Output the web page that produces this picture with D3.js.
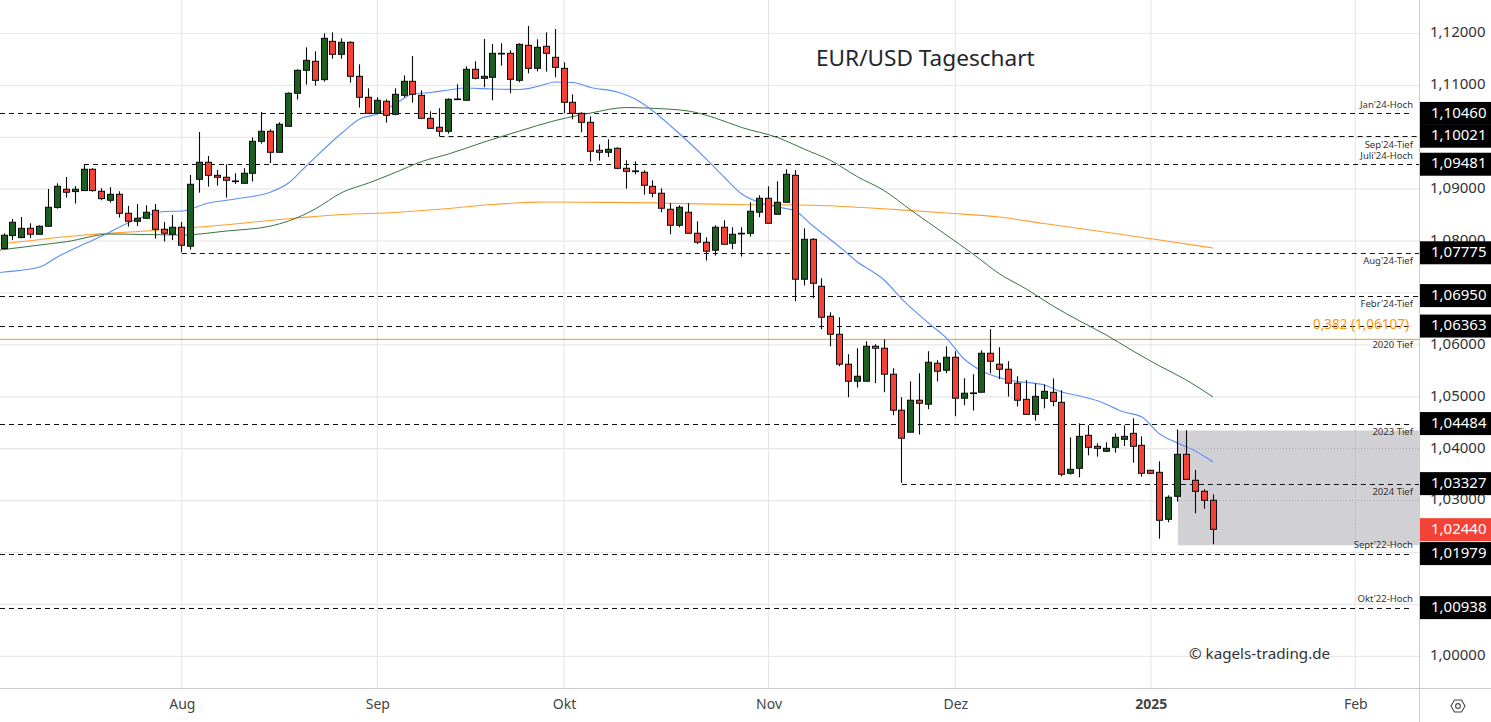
<!DOCTYPE html>
<html>
<head>
<meta charset="utf-8">
<script src="https://cdn.jsdelivr.net/npm/d3@7"></script>
<style>
  html, body { margin: 0; padding: 0; background: #fff; overflow: hidden; }
  svg { display: block; }
  text { font-family: "Noto Sans", sans-serif; }
</style>
</head>
<body>
<div id="chart"></div>
<script>
// prices are written in 1/100000, bar 0 is the first visible trading day
var opens = [107856,108106,108068,108247,108132,108286,108646,108999,108954,108973,
  109384,108960,108787,108902,108536,108382,108440,108594,108228,108132,
  108267,107901,109191,109519,109268,109230,109146,109114,109307,109923,
  110116,109711,110212,110848,111291,111464,111111,111849,111599,111830,
  111175,110771,110462,110694,110443,110809,111079,110809,110366,110193,
  110116,110726,110713,111310,111136,111156,111618,111618,111098,111772,
  111329,111753,111541,111329,110674,110462,110289,109750,109711,109788,
  109403,109339,109326,109056,108922,108613,108305,108556,108151,107978,
  107824,108267,107959,108151,108151,108556,108825,108517,108748,109268,
  107265,108035,107130,106552,106205,105628,105300,105300,105974,105936,
  105435,104742,104318,104934,104857,105647,105512,105762,104973,105063,
  105088,105839,105628,105531,105262,104951,104662,104970,105086,104893,
  103526,103622,104258,104046,103950,104027,104181,104296,104065,103584,
  103545,102640,103083,103892,103391,103179,103006];
var highs = [108151,108427,108466,108344,108305,109005,109114,109236,109063,109480,
  109403,109018,109037,108960,108678,108716,108690,108716,108369,108504,
  108369,109275,110103,109641,109371,109480,109307,109403,110000,110488,
  110154,110289,110867,111310,111734,111657,112003,112022,111907,111849,
  111406,110944,110771,110732,110944,111194,111567,110905,110501,110559,
  110751,111021,111368,111464,111894,111798,111811,111676,111811,112144,
  111888,112022,112087,111445,110828,110482,110405,109865,109962,109808,
  109557,109538,109365,109172,109018,108729,108690,108729,108382,108074,
  108305,108402,108267,108267,108748,108883,109056,109153,109383,109370,
  108247,108054,107284,106629,106533,105820,105936,106071,106013,106109,
  105550,104992,105300,105454,105878,105705,105974,105878,105358,105435,
  105897,106302,105955,105685,105396,105323,105259,105240,105355,105124,
  104219,104489,104450,104104,104123,104296,104450,104585,104238,103584,
  103757,103102,104373,104354,103590,103218,103121];
var lows = [107856,108023,108055,108061,108126,108280,108626,108838,108723,108967,
  108954,108787,108742,108453,108280,108292,108427,108048,107991,108023,
  107785,107837,108934,109050,109069,108838,109101,109114,109146,109878,
  109506,109711,110206,110726,111015,110995,111072,111515,111515,111053,
  110572,110462,110443,110283,110424,110771,110668,110360,110167,110019,
  110071,110726,110713,111117,110963,110713,111380,110848,111059,111233,
  111271,111265,111156,110462,110347,110096,109531,109551,109621,109384,
  109011,109288,108896,108845,108556,108132,108267,108151,107939,107625,
  107721,107939,107843,107702,108087,108459,108344,108517,108748,106841,
  107143,106899,106302,105974,105589,104992,105178,105300,105262,105088,
  104645,103342,104318,104273,104761,105294,105454,104626,104838,104735,
  105088,105454,105339,105005,104812,104662,104540,104778,104816,103468,
  103500,103449,103872,103847,103937,103924,104052,103731,103462,103519,
  102267,102582,102980,103410,102755,102845,102158];
var closes = [108113,108363,108247,108132,108286,108652,109056,108941,108999,109384,
  108973,108819,108902,108536,108382,108440,108556,108228,108151,108267,
  107920,109095,109519,109268,109230,109172,109159,109307,109923,110116,
  109711,110251,110848,111291,111483,111098,111907,111599,111830,111175,
  110771,110462,110713,110424,110828,111079,110828,110366,110173,110116,
  110732,110738,111310,111136,111175,111618,111605,111117,111791,111329,
  111734,111618,111348,110674,110462,110289,109731,109711,109769,109403,
  109345,109352,109076,108922,108633,108305,108652,108151,107978,107805,
  108267,107939,108132,108138,108575,108825,108344,108748,109287,107265,
  108035,107188,106533,106205,105628,105300,105396,105974,105936,105435,
  104742,104202,104934,104876,105666,105493,105762,104973,105069,105075,
  105839,105685,105531,105262,104934,104662,105009,105105,104913,103507,
  103603,104238,104027,104007,104007,104219,104238,104046,103526,103526,
  102621,103064,103892,103410,103179,103006,102447];

// moving averages, read at the bars listed in the *Bars arrays (bar -1 runs off the left edge)
var ma20Bars = [-1,0,4,6,11,15,18,20,23,26,30,32,34,38,40,42,44,46,48,50,52,55,58,60,62,64,66,69,71,73,75,77,79,81,83,85,87,89,91,94,96,99,101,104,106,108,110,113,117,119,121,123,126,128,130,132,134,136];
var ma20 = [107385,107404,107500,107693,108098,108425,108570,108579,108734,108811,108946,109119,109447,110082,110352,110448,110641,110834,110863,110911,110949,110930,110921,110978,111065,111055,110959,110872,110738,110506,110217,109909,109581,109235,108907,108743,108657,108579,108290,107886,107597,107250,106884,106421,106132,105728,105497,105323,105227,105092,105015,104924,104707,104610,104283,104109,103955,103743];
var ma50Bars = [-1,0,4,7,12,16,20,25,30,32,35,38,41,44,47,50,54,58,62,66,70,73,77,80,83,87,90,93,96,99,102,106,109,112,115,118,121,124,127,130,133,136];
var ma50 = [107815,107838,107924,107988,108136,108127,108117,108194,108290,108387,108618,108936,109119,109321,109533,109678,109909,110121,110323,110468,110574,110558,110506,110371,110188,109996,109774,109552,109240,108974,108599,108117,107751,107366,107076,106749,106460,106190,105882,105593,105323,104996];
var ma200Bars = [-1,0,9,16,22,33,38,44,50,55,61,67,73,78,84,90,95,100,106,112,117,123,130,136];
var ma200 = [107935,107953,108117,108194,108271,108445,108512,108551,108628,108705,108753,108747,108737,108718,108701,108695,108662,108612,108541,108464,108339,108194,108021,107867];

// x axis
var monthBars = [20,42,63,86,107,129,152];
var monthLabels = ["Aug","Sep","Okt","Nov","Dez","2025","Feb"];
var priceTicks = [112000,111000,110000,109000,108000,107000,106000,105000,104000,103000,102000,101000,100000];
// the other round prices sit fully behind a level tag, only their grid line shows
var priceLabels = [112000,111000,109000,108000,106000,105000,104000,103000,100000];

// horizontal levels: price, first bar (null = from the left edge), reaches the axis or not
var levelPrices = [110460,110021,109481,107775,106950,106363,104484,103327,101979,100938];
var levelStart = [null,49,9,20,null,null,null,101,null,null];
var levelToAxis = [false,true,true,true,true,false,false,true,false,false];
var noteTexts = ["Jan'24-Hoch","Sep'24-Tief","Juli'24-Hoch","Aug'24-Tief","Febr'24-Tief","2020 Tief","2023 Tief","2024 Tief","Sept'22-Hoch","Okt'22-Hoch"];
var notePrices = [110632,109861,109649,107626,106798,106008,104331,103175,102154,101114];
var fibLevel = 106107;
var lastPrice = 102440;
var boxPrices = [104350,102140];
var boxStartBar = 132.05;

var width = 1491, height = 722,
    plotRight = 1419, plotBottom = 688.5;

var svg = d3.select("#chart").append("svg")
    .attr("width", width)
    .attr("height", height);

var x = d3.scaleLinear().domain([0, 152]).range([4, 1355.3]);
var y = d3.scaleLinear().domain([1.12, 1.00]).range([33.5, 656.3]);
var p = function(d) { return d / 100000; };
var priceFormat = function(d) { return d3.format(".5f")(d).replace(".", ","); };

svg.append("defs").append("clipPath").attr("id", "plot")
  .append("rect").attr("width", plotRight).attr("height", plotBottom);

var plot = svg.append("g").attr("clip-path", "url(#plot)");

// ---- grid ----
var gridColor = "#e8e8ea";
plot.append("g").selectAll("line").data(priceTicks).enter().append("line")
    .attr("x1", 0).attr("x2", plotRight)
    .attr("y1", function(d) { return y(p(d)); })
    .attr("y2", function(d) { return y(p(d)); })
    .attr("stroke", gridColor).attr("stroke-width", 1.2);
plot.append("g").selectAll("line").data(monthBars).enter().append("line")
    .attr("x1", function(d) { return x(d); })
    .attr("x2", function(d) { return x(d); })
    .attr("y1", 0).attr("y2", plotBottom)
    .attr("stroke", gridColor).attr("stroke-width", 1.2);

// ---- grey range box ----
var boxLeft = x(boxStartBar), boxTop = y(p(boxPrices[0])), boxBottom = y(p(boxPrices[1]));
plot.append("rect")
    .attr("x", boxLeft).attr("y", boxTop)
    .attr("width", plotRight - boxLeft).attr("height", boxBottom - boxTop)
    .attr("fill", "#d1d0d5");
plot.append("g").selectAll("line").data([104000, 103000]).enter().append("line")
    .attr("x1", boxLeft).attr("x2", plotRight)
    .attr("y1", function(d) { return y(p(d)); })
    .attr("y2", function(d) { return y(p(d)); })
    .attr("stroke", "#a8a8ad").attr("stroke-dasharray", "1,2");
plot.append("line")
    .attr("x1", x(152)).attr("x2", x(152)).attr("y1", boxTop).attr("y2", boxBottom)
    .attr("stroke", "#a8a8ad").attr("stroke-dasharray", "1,2");

// ---- level lines ----
plot.append("g").selectAll("line").data(levelPrices).enter().append("line")
    .attr("x1", function(d, i) { return levelStart[i] === null ? 0 : x(levelStart[i]); })
    .attr("x2", function(d, i) { return levelToAxis[i] ? plotRight : 1413; })
    .attr("y1", function(d) { return Math.round(y(p(d))) + 0.5; })
    .attr("y2", function(d) { return Math.round(y(p(d))) + 0.5; })
    .attr("stroke", "#111").attr("stroke-width", 1.1).attr("stroke-dasharray", "5,4");
plot.append("line")
    .attr("x1", 0).attr("x2", plotRight)
    .attr("y1", y(p(fibLevel))).attr("y2", y(p(fibLevel)))
    .attr("stroke", "#ff9800").attr("stroke-width", 1);

// ---- moving averages ----
var drawMa = function(bars, vals, color, w) {
  var line = d3.line()
    .x(function(d, i) { return x(bars[i]); })
    .y(function(d) { return y(p(d)); })
    .curve(d3.curveMonotoneX);
  plot.append("path").datum(vals)
    .attr("d", line)
    .attr("fill", "none")
    .attr("stroke", color)
    .attr("stroke-width", w);
};
drawMa(ma200Bars, ma200, "#ff9e2c", 1.1);
drawMa(ma50Bars, ma50, "#3a7343", 1);
drawMa(ma20Bars, ma20, "#5b8ff9", 1.1);

// ---- candles ----
var candles = plot.append("g").selectAll("g").data(opens).enter().append("g")
    .attr("transform", function(d, i) { return "translate(" + (Math.round(x(i) - 0.5) + 0.5) + ",0)"; });
candles.append("line")
    .attr("y1", function(d, i) { return y(p(highs[i])); })
    .attr("y2", function(d, i) { return y(p(lows[i])); })
    .attr("stroke", "#0a0a0a").attr("stroke-width", 1.1);
candles.append("rect")
    .attr("x", -3).attr("width", 6)
    .attr("y", function(d, i) { return y(p(Math.max(d, closes[i]))); })
    .attr("height", function(d, i) { return Math.max(0.5, Math.abs(y(p(d)) - y(p(closes[i])))); })
    .attr("fill", function(d, i) { return closes[i] >= d ? "#1b5e20" : "#f44336"; })
    .attr("stroke", "#0a0a0a").attr("stroke-width", 1);

// ---- notes on the levels ----
plot.append("g").selectAll("text").data(noteTexts).enter().append("text")
    .attr("x", 1413)
    .attr("y", function(d, i) { return y(p(notePrices[i])); })
    .attr("dy", "0.35em")
    .attr("text-anchor", "end")
    .attr("font-size", 9.5)
    .attr("fill", "#333")
    .text(function(d) { return d; });
plot.append("text")
    .attr("x", 1409).attr("y", 324.5).attr("dy", "0.35em")
    .attr("text-anchor", "end")
    .attr("font-size", 13.5).attr("fill", "#ff9800")
    .text("0,382 (1,06107)");

plot.append("text")
    .attr("x", 816).attr("y", 66)
    .attr("font-size", 22.6).attr("fill", "#23262f")
    .text("EUR/USD Tageschart");
plot.append("text")
    .attr("x", 1189).attr("y", 659)
    .attr("font-size", 15.2).attr("fill", "#333")
    .text("\u00a9 kagels-trading.de");

// ---- axes ----
var priceAxis = d3.axisRight(y)
    .tickValues(priceLabels.map(p))
    .tickFormat(priceFormat)
    .tickSize(0)
    .tickPadding(11);
var priceG = svg.append("g")
    .attr("transform", "translate(" + plotRight + ",0)")
    .call(priceAxis);
priceG.select(".domain").attr("d", "M0.5,0V" + height).attr("stroke", "#c9cbd1");
priceG.selectAll("text").attr("font-size", 15).attr("fill", "#333")
    .attr("y", -1.5)
    .style("font-family", '"Noto Sans", sans-serif');

var timeAxis = d3.axisBottom(x)
    .tickValues(monthBars)
    .tickFormat(function(d, i) { return monthLabels[i]; })
    .tickSize(0)
    .tickPadding(11);
var timeG = svg.append("g")
    .attr("transform", "translate(0," + plotBottom + ")")
    .call(timeAxis);
timeG.select(".domain").attr("d", "M0,0H" + width).attr("stroke", "#c9cbd1");
timeG.selectAll("text").attr("font-size", 14).attr("fill", "#444")
    .style("font-family", '"Noto Sans", sans-serif')
    .attr("font-weight", function(d, i) { return monthLabels[i] === "2025" ? "bold" : "normal"; });

// ---- price labels on the axis ----
var tagH = 23;
var tags = svg.append("g").selectAll("g")
    .data(levelPrices.concat([lastPrice])).enter().append("g")
    .attr("transform", function(d) { return "translate(1420," + y(p(d)) + ")"; });
tags.append("rect")
    .attr("y", -tagH / 2)
    .attr("width", width - 1420).attr("height", tagH)
    .attr("fill", function(d) { return d === lastPrice ? "#f44336" : "#000"; });
tags.append("text")
    .attr("x", 11).attr("y", -1).attr("dy", "0.35em")
    .attr("font-size", 15).attr("fill", "#fff")
    .text(function(d) { return priceFormat(p(d)); });

// settings icon
var icon = svg.append("g").attr("transform", "translate(1458,706)")
    .attr("fill", "none").attr("stroke", "#444").attr("stroke-width", 1.1);
icon.append("path").attr("d", "M-7,0L-3.5,-6H3.5L7,0L3.5,6H-3.5Z");
icon.append("circle").attr("r", 2.4);
</script>
</body>
</html>
